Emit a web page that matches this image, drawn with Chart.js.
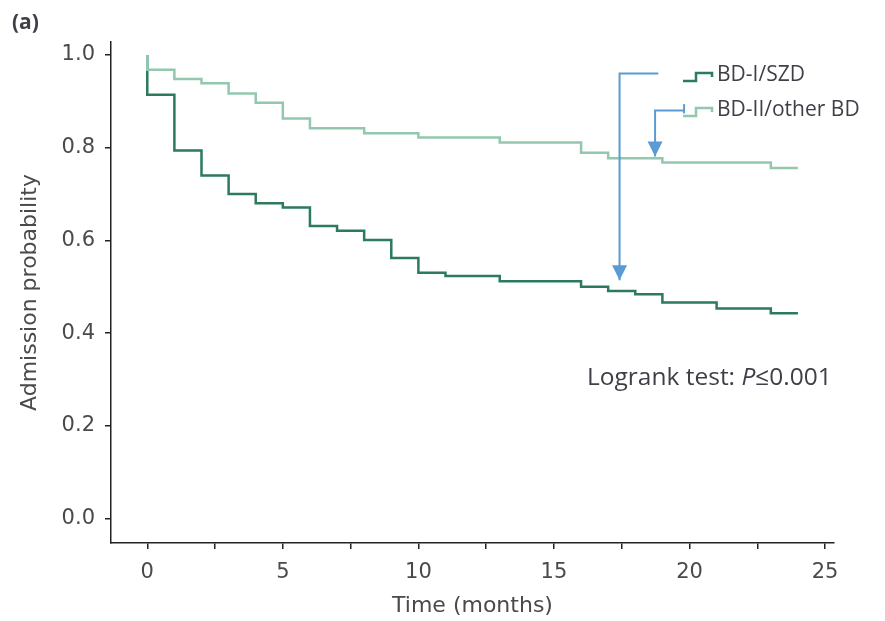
<!DOCTYPE html>
<html>
<head>
<meta charset="utf-8">
<script src="https://cdn.jsdelivr.net/npm/chart.js@4"></script>
<style>
  html, body { margin: 0; padding: 0; background: #fff; }
  #wrap { width: 885px; height: 621px; }
</style>
</head>
<body>
<div id="wrap"><canvas id="km" width="885" height="621"></canvas></div>
<script>
// Kaplan-Meier estimates
const monthsI = [0, 0, 1, 2, 3, 4, 5, 6, 7, 8, 9, 10, 11, 13, 16, 17, 18, 19, 21, 23, 24];
const survI   = [1.0, 0.914, 0.794, 0.740, 0.700, 0.680, 0.671, 0.631, 0.621, 0.601, 0.562, 0.530, 0.523, 0.512, 0.500, 0.491, 0.484, 0.466, 0.453, 0.443, 0.443];
const monthsII = [0, 0, 1, 2, 3, 4, 5, 6, 8, 10, 13, 16, 17, 19, 23, 24];
const survII   = [1.0, 0.968, 0.948, 0.939, 0.917, 0.897, 0.863, 0.842, 0.831, 0.822, 0.811, 0.789, 0.777, 0.768, 0.756, 0.756];
const groupLabels = ['BD-I/SZD', 'BD-II/other BD'];
const xTicks = [0, 2.5, 5, 7.5, 10, 12.5, 15, 17.5, 20, 22.5, 25];
const yTicks = [0, 0.2, 0.4, 0.6, 0.8, 1.0];

const darkGreen = '#2b7b5c';
const lightGreen = '#92c8ae';
const arrowBlue = '#5b9bd5';
const textCol = '#3f3f48';
const axisFont = '"DejaVu Sans", sans-serif';
const sans = '"Open Sans", "Noto Sans", sans-serif';

function toPts(xs, ys) {
  return xs.map((x, i) => ({ x: x, y: ys[i] }));
}

// legend, annotation text and the two blue arrows
const extras = {
  id: 'extras',
  afterDraw(chart) {
    const ctx = chart.ctx;
    const xs = chart.scales.x, ys = chart.scales.y;
    ctx.save();

    // panel letter
    ctx.fillStyle = textCol;
    ctx.font = 'bold 21px ' + sans;
    ctx.textBaseline = 'middle';
    ctx.textAlign = 'left';
    ctx.fillText('(a)', 12, 23);

    // legend
    const cols = [darkGreen, lightGreen];
    const rows = [75, 110];
    ctx.font = '21px ' + sans;
    rows.forEach((cy, i) => {
      ctx.strokeStyle = cols[i];
      ctx.lineWidth = 2.5;
      ctx.beginPath();
      ctx.moveTo(683, cy + 6);
      ctx.lineTo(696, cy + 6);
      ctx.lineTo(696, cy - 2);
      ctx.lineTo(712, cy - 2);
      ctx.lineTo(712, cy + 2);
      ctx.stroke();
      ctx.fillStyle = textCol;
      ctx.fillText(groupLabels[i], 717, cy);
    });

    // logrank text
    const fs = 24.5;
    ctx.font = fs + 'px ' + sans;
    let x0 = 587;
    const y0 = 378;
    ctx.fillText('Logrank test: ', x0, y0);
    x0 += ctx.measureText('Logrank test: ').width;
    ctx.font = 'italic ' + fs + 'px ' + sans;
    ctx.fillText('P', x0, y0);
    x0 += ctx.measureText('P').width;
    ctx.font = fs + 'px ' + sans;
    ctx.fillText('\u22640.001', x0, y0);

    // arrows
    ctx.strokeStyle = arrowBlue;
    ctx.fillStyle = arrowBlue;
    ctx.lineWidth = 2;
    function arrow(pts, tick) {
      ctx.beginPath();
      ctx.moveTo(xs.getPixelForValue(pts[0][0]), ys.getPixelForValue(pts[0][1]));
      for (let k = 1; k < pts.length; k++) {
        ctx.lineTo(xs.getPixelForValue(pts[k][0]), ys.getPixelForValue(pts[k][1]));
      }
      const tip = pts[pts.length - 1];
      const tx = xs.getPixelForValue(tip[0]), ty = ys.getPixelForValue(tip[1]);
      ctx.stroke();
      ctx.beginPath();
      ctx.moveTo(tx, ty);
      ctx.lineTo(tx - 7.5, ty - 15);
      ctx.lineTo(tx + 7.5, ty - 15);
      ctx.closePath();
      ctx.fill();
      if (tick) {
        const px = xs.getPixelForValue(tick[0]);
        ctx.beginPath();
        ctx.moveTo(px, ys.getPixelForValue(tick[1]));
        ctx.lineTo(px, ys.getPixelForValue(tick[2]));
        ctx.stroke();
      }
    }
    arrow([[18.85, 0.96], [17.42, 0.96], [17.42, 0.514]]);
    arrow([[19.8, 0.88], [18.73, 0.88], [18.73, 0.781]], [19.8, 0.894, 0.874]);

    ctx.restore();
  }
};

const ctx = document.getElementById('km').getContext('2d');
new Chart(ctx, {
  type: 'line',
  data: {
    datasets: [
      {
        label: groupLabels[1],
        data: toPts(monthsII, survII),
        borderColor: lightGreen,
        borderWidth: 2.5,
        stepped: true,
        pointRadius: 0,
        fill: false
      },
      {
        label: groupLabels[0],
        data: toPts(monthsI, survI),
        borderColor: darkGreen,
        borderWidth: 2.5,
        stepped: true,
        pointRadius: 0,
        fill: false
      }
    ]
  },
  options: {
    responsive: false,
    animation: false,
    layout: { padding: { top: 42, right: 51, left: 0, bottom: 0 } },
    plugins: {
      legend: { display: false },
      tooltip: { enabled: false }
    },
    scales: {
      x: {
        type: 'linear',
        min: -1.338,
        max: 25.33,
        afterBuildTicks: s => { s.ticks = xTicks.map(v => ({ value: v })); },
        afterFit: s => { s.height = 78; },
        ticks: {
          callback: v => (v % 5 === 0 ? v : ''),
          color: '#4a4a4a',
          font: { family: axisFont, size: 21 },
          padding: 11,
          maxRotation: 0
        },
        grid: { drawOnChartArea: false, drawTicks: true, tickLength: 6, color: '#222', lineWidth: 1.5 },
        border: { display: true, color: '#222', width: 1.5 },
        title: {
          display: true,
          text: 'Time (months)',
          color: '#4a4a4a',
          font: { family: axisFont, size: 22 },
          padding: { top: 0, bottom: 2 }
        }
      },
      y: {
        type: 'linear',
        min: -0.0529,
        max: 1.028,
        afterBuildTicks: s => { s.ticks = yTicks.map(v => ({ value: v })); },
        afterFit: s => { s.width = 111; },
        ticks: {
          callback: v => v.toFixed(1),
          color: '#4a4a4a',
          font: { family: axisFont, size: 21 },
          padding: 10
        },
        grid: { drawOnChartArea: false, drawTicks: true, tickLength: 6, color: '#222', lineWidth: 1.5 },
        border: { display: true, color: '#222', width: 1.5 },
        title: {
          display: true,
          text: 'Admission probability',
          color: '#4a4a4a',
          font: { family: axisFont, size: 22 },
          padding: { top: 17, bottom: 0 }
        }
      }
    }
  },
  plugins: [extras]
});
</script>
</body>
</html>
